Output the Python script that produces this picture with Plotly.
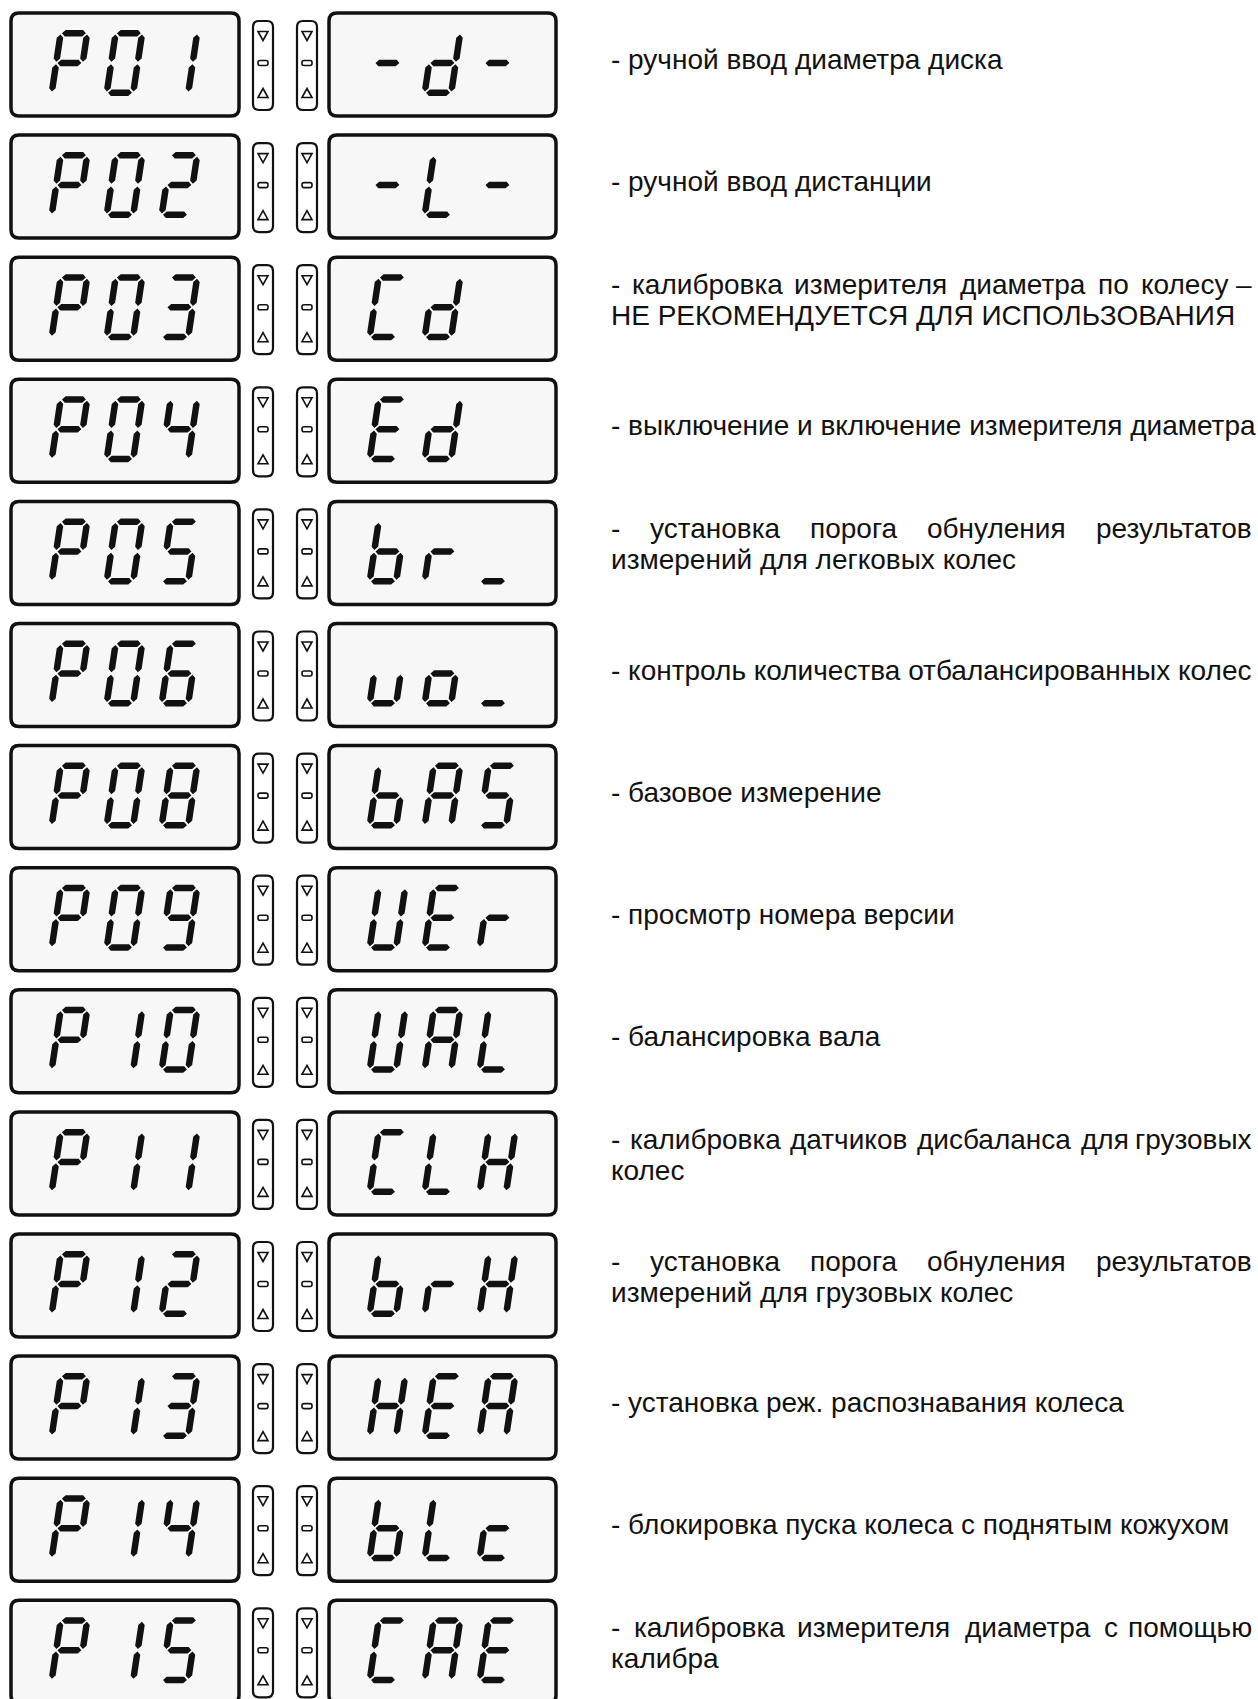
import plotly.graph_objects as go

# ---------------- data ----------------
codes = ["P01", "P02", "P03", "P04", "P05", "P06", "P08", "P09",
         "P10", "P11", "P12", "P13", "P14", "P15"]
values = ["-d-", "-L-", "Cd ", "Ed ", "br_", "uo_", "bAS", "UEr",
          "UAL", "CLH", "brH", "HEA", "bLc", "CAE"]
desc_line1 = [
    "- ручной ввод диаметра диска",
    "- ручной ввод дистанции",
    "- калибровка измерителя диаметра по колесу –",
    "- выключение и включение измерителя диаметра",
    "- установка порога обнуления результатов",
    "- контроль количества отбалансированных колес",
    "- базовое измерение",
    "- просмотр номера версии",
    "- балансировка вала",
    "- калибровка датчиков дисбаланса для грузовых",
    "- установка порога обнуления результатов",
    "- установка реж. распознавания колеса",
    "- блокировка пуска колеса с поднятым кожухом",
    "- калибровка измерителя диаметра с помощью",
]
desc_line2 = ["", "", "НЕ РЕКОМЕНДУЕТСЯ ДЛЯ ИСПОЛЬЗОВАНИЯ", "",
              "измерений для легковых колес", "", "", "", "",
              "колес", "измерений для грузовых колес", "", "", "калибра"]
justified = [False, False, True, False, True, False, False, False, False,
             True, True, False, False, True]

# seven-segment glyph table
SEG = {
    "P": "abefg", "0": "abcdef", "1": "bc", "2": "abdeg", "3": "abcdg",
    "4": "bcfg", "5": "acdfg", "6": "acdefg", "7": "abc", "8": "abcdefg",
    "9": "abcdfg", "-": "g", "d": "bcdeg", "L": "def", "C": "adef",
    "E": "adefg", "b": "cdefg", "r": "eg", "_": "d", "u": "cde",
    "o": "cdeg", "A": "abcefg", "S": "acdfg", "U": "bcdef", "H": "bcefg",
    "c": "deg", " ": "",
}

# ---------------- layout constants ----------------
W_PX, H_PX = 1258, 1699
ROW0, PITCH = 13, 122.1
BOX_H = 103
LBOX = (11, 239)
RBOX = (329, 556)
BTN = [(253, 273), (297, 317)]
DIG_OFF, DIG_STEP = 37, 55
DW, DH, DT, GAP, SHEAR = 33, 66, 6.5, 1.3, 0.15
TX0, TX1 = 609, 1254
FS = 28
FONT = "Liberation Sans, Arial, sans-serif"

# Arial advance widths (1/1000 em) for justification
AW = {" ": 278, "-": 333, "–": 556, ".": 278,
      "а": 556, "б": 573, "в": 531, "г": 365, "д": 583, "е": 556, "ж": 669,
      "з": 458, "и": 559, "й": 559, "к": 438, "л": 583, "м": 688, "н": 552,
      "о": 556, "п": 542, "р": 556, "с": 500, "т": 458, "у": 500, "ф": 823,
      "х": 500, "ц": 573, "ч": 521, "ш": 802, "щ": 823, "ъ": 625, "ы": 719,
      "ь": 521, "э": 510, "ю": 750, "я": 542}


def tw(s):
    return sum(AW.get(ch, 600) for ch in s) / 1000.0 * FS


def seg_polys(ch, x0, yb):
    h = DT / 2.0

    def tf(pts):
        return [(x0 + u + SHEAR * v, yb - v) for u, v in pts]

    def hs(v, u1, u2):
        return tf([(u1, v), (u1 + h, v + h), (u2 - h, v + h), (u2, v),
                   (u2 - h, v - h), (u1 + h, v - h)])

    def vs(u, v1, v2):
        return tf([(u, v1), (u + h, v1 + h), (u + h, v2 - h), (u, v2),
                   (u - h, v2 - h), (u - h, v1 + h)])

    geo = {
        "a": hs(DH - h, h + GAP, DW - h - GAP),
        "g": hs(DH / 2, h + GAP, DW - h - GAP),
        "d": hs(h, h + GAP, DW - h - GAP),
        "f": vs(h, DH / 2 + GAP, DH - h - GAP),
        "b": vs(DW - h, DH / 2 + GAP, DH - h - GAP),
        "e": vs(h, h + GAP, DH / 2 - GAP),
        "c": vs(DW - h, h + GAP, DH / 2 - GAP),
    }
    return [geo[s] for s in SEG.get(ch, "")]


def rrect(x0, y0, x1, y1, r):
    return (f"M {x0 + r},{y0} L {x1 - r},{y0} Q {x1},{y0} {x1},{y0 + r} "
            f"L {x1},{y1 - r} Q {x1},{y1} {x1 - r},{y1} L {x0 + r},{y1} "
            f"Q {x0},{y1} {x0},{y1 - r} L {x0},{y0 + r} Q {x0},{y0} {x0 + r},{y0} Z")


fig = go.Figure()
shapes = []
annotations = []


def add_text(x, y, s, anchor):
    annotations.append(dict(x=x, y=y, xref="x", yref="y", text=s,
                            showarrow=False, xanchor=anchor, yanchor="middle",
                            font=dict(family=FONT, size=FS, color="#111111")))


for i in range(len(codes)):
    top = ROW0 + i * PITCH
    bot = top + BOX_H
    cy = top + BOX_H / 2
    # display boxes
    for (bx0, bx1) in (LBOX, RBOX):
        shapes.append(dict(type="path", path=rrect(bx0, top, bx1, bot, 8),
                           xref="x", yref="y", fillcolor="#f7f7f7",
                           line=dict(color="#111111", width=3.5), layer="below"))
    # buttons
    for (b0, b1) in BTN:
        shapes.append(dict(type="path", path=rrect(b0, top + 8, b1, top + 97, 6),
                           xref="x", yref="y", fillcolor="white",
                           line=dict(color="#111111", width=2.2)))
        bc = (b0 + b1) / 2
        ty = top + 23
        shapes.append(dict(type="path",
                           path=f"M {bc - 5},{ty - 4.5} L {bc + 5},{ty - 4.5} L {bc},{ty + 4.5} Z",
                           xref="x", yref="y", fillcolor="white",
                           line=dict(color="#111111", width=1.6)))
        ty = top + 80
        shapes.append(dict(type="path",
                           path=f"M {bc - 5},{ty + 4.5} L {bc + 5},{ty + 4.5} L {bc},{ty - 4.5} Z",
                           xref="x", yref="y", fillcolor="white",
                           line=dict(color="#111111", width=1.6)))
        my = top + 50
        shapes.append(dict(type="path", path=rrect(bc - 5, my - 2.5, bc + 5, my + 2.5, 2),
                           xref="x", yref="y", fillcolor="white",
                           line=dict(color="#111111", width=1.6)))
    # digits
    yb = top + 17 + DH
    for text, (bx0, _) in ((codes[i], LBOX), (values[i], RBOX)):
        xs, ys = [], []
        for k, ch in enumerate(text):
            x0 = bx0 + DIG_OFF + k * DIG_STEP
            for poly in seg_polys(ch, x0, yb):
                for (px, py) in poly + [poly[0]]:
                    xs.append(px)
                    ys.append(py)
                xs.append(None)
                ys.append(None)
        fig.add_trace(go.Scatter(x=xs, y=ys, mode="lines", fill="toself",
                                 fillcolor="#111111", line=dict(width=0, color="#111111"),
                                 hoverinfo="skip", showlegend=False))
    # descriptions
    lines = [desc_line1[i]] + ([desc_line2[i]] if desc_line2[i] else [])
    if len(lines) == 1:
        ys_ = [cy - 5]
    else:
        ys_ = [cy - 24, cy + 7]
    for li, (ln, yy) in enumerate(zip(lines, ys_)):
        if li == 0 and justified[i]:
            words = ln.split(" ")
            widths = [tw(w) for w in words]
            gap = (TX1 - TX0 - sum(widths)) / (len(words) - 1)
            x = TX0
            for wi, (w, wd) in enumerate(zip(words, widths)):
                if wi == len(words) - 1:
                    add_text(TX1, yy, w, "right")
                else:
                    add_text(x, yy, w, "left")
                x += wd + gap
        else:
            add_text(TX0, yy, ln, "left")

fig.update_layout(
    width=W_PX, height=H_PX, autosize=False,
    margin=dict(l=0, r=0, t=0, b=0, pad=0),
    paper_bgcolor="white", plot_bgcolor="white",
    xaxis=dict(range=[0, W_PX], visible=False, fixedrange=True),
    yaxis=dict(range=[H_PX, 0], visible=False, fixedrange=True),
    shapes=shapes, annotations=annotations, showlegend=False,
)

fig.write_html("out.html", config={"displayModeBar": False},
               post_script="document.body.style.margin='0';document.body.style.overflow='hidden';")
